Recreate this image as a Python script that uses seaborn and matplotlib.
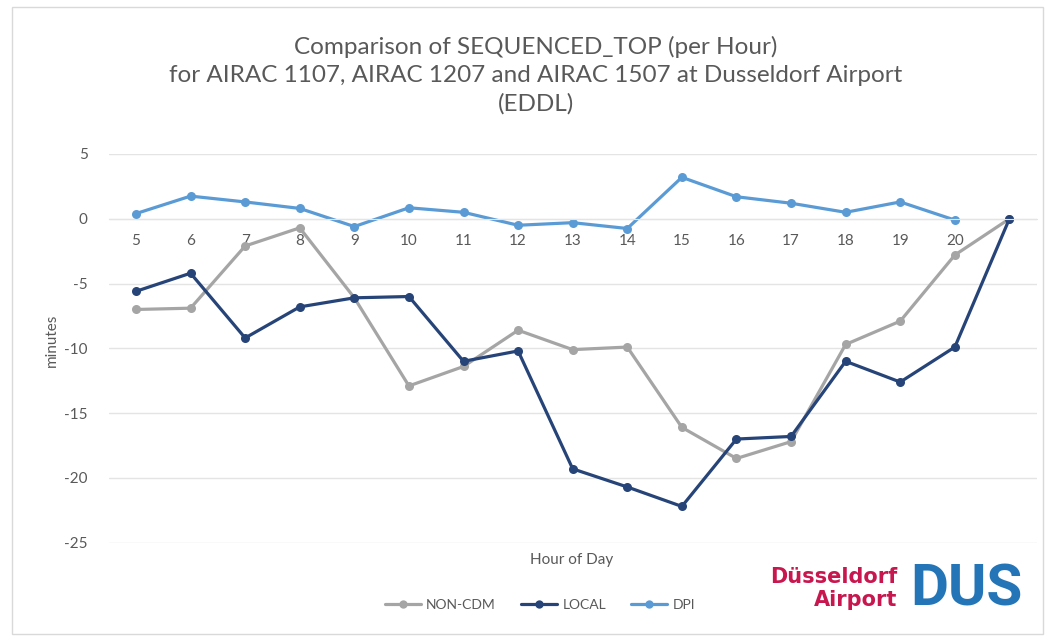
import matplotlib
matplotlib.use("Agg")
import matplotlib.pyplot as plt
import seaborn as sns
import numpy as np
import pandas as pd
from matplotlib.lines import Line2D
from matplotlib.patches import Rectangle

# Data
hours = [5, 6, 7, 8, 9, 10, 11, 12, 13, 14, 15, 16, 17, 18, 19, 20, 21]
hour_labels = ["5", "6", "7", "8", "9", "10", "11", "12", "13", "14",
               "15", "16", "17", "18", "19", "20", ""]
non_cdm = [-7.0, -6.9, -2.1, -0.7, -6.1, -12.9, -11.4, -8.6, -10.1, -9.9,
           -16.1, -18.5, -17.2, -9.7, -7.9, -2.8, 0.0]
local = [-5.6, -4.2, -9.2, -6.8, -6.1, -6.0, -11.0, -10.2, -19.3, -20.7,
         -22.2, -17.0, -16.8, -11.0, -12.6, -9.9, 0.0]
dpi = [0.4, 1.75, 1.3, 0.8, -0.6, 0.85, 0.5, -0.5, -0.3, -0.75,
       3.2, 1.7, 1.2, 0.5, 1.3, -0.1, np.nan]
y_ticks = [5, 0, -5, -10, -15, -20, -25]
y_labels = ["5", "0", "-5", "-10", "-15", "-20", "-25"]

series_names = ["NON-CDM", "LOCAL", "DPI"]
series_colors = ["#A5A5A5", "#264478", "#5B9BD5"]

sns.set_style("white")
plt.rcParams["font.family"] = ["Lato", "DejaVu Sans"]
text_col = "#595959"

df = pd.DataFrame({"hour": hours, "NON-CDM": non_cdm, "LOCAL": local, "DPI": dpi})
df = df.melt(id_vars="hour", var_name="series", value_name="minutes")

fig = plt.figure(figsize=(10.51, 6.39), dpi=100)
ax = fig.add_axes([0.1034, 0.1507, 0.883, 0.6083])

for name, col in zip(series_names, series_colors):
    sub = df[df["series"] == name].dropna()
    sns.lineplot(data=sub, x="hour", y="minutes", color=col, marker="o",
                 markersize=6.5, markeredgewidth=0, linewidth=2.3, ax=ax)

ax.set_xlim(4.5, 21.5)
ax.set_ylim(-25, 5)
ax.set_xticks(hours)
ax.set_xticklabels(hour_labels)
ax.set_yticks(y_ticks)
ax.set_yticklabels(y_labels)
ax.yaxis.grid(True, color="#E4E4E4", linewidth=1)
ax.set_axisbelow(True)
for s in ["top", "right", "left"]:
    ax.spines[s].set_visible(False)
ax.spines["bottom"].set_position(("data", 0))
ax.spines["bottom"].set_color("#E4E4E4")
ax.tick_params(axis="x", length=0, pad=11, labelsize=11, labelcolor=text_col)
ax.tick_params(axis="y", length=0, pad=15, labelsize=11, labelcolor=text_col)
ax.set_xlabel("")
ax.set_ylabel("")

fig.text(536 / 1051, 1 - 75 / 639,
         "Comparison of SEQUENCED_TOP (per Hour)\n"
         "for AIRAC 1107, AIRAC 1207 and AIRAC 1507 at Dusseldorf Airport\n"
         "(EDDL)",
         ha="center", va="center", fontsize=17.5, color=text_col, linespacing=1.42)
fig.text(52 / 1051, 1 - 340 / 639, "minutes", rotation=90, ha="center", va="center",
         fontsize=11, color=text_col)
fig.text(572 / 1051, 1 - 560 / 639, "Hour of Day", ha="center", va="center",
         fontsize=11, color=text_col)

handles = [Line2D([], [], color=c, marker="o", markersize=6, markeredgewidth=0, linewidth=2.3)
           for c in series_colors]
fig.legend(handles, series_names, loc="center", bbox_to_anchor=(540 / 1051, 1 - 605 / 639),
           ncol=3, frameon=False, fontsize=10, labelcolor=text_col,
           handlelength=2.6, columnspacing=1.8, handletextpad=0.4)

# airport logo
fig.text(897 / 1051, 1 - 577 / 639, "Düsseldorf", ha="right", va="center",
         fontsize=15, fontweight="bold", color="#C8174F", family="DejaVu Sans")
fig.text(897 / 1051, 1 - 600 / 639, "Airport", ha="right", va="center",
         fontsize=15, fontweight="bold", color="#C8174F", family="DejaVu Sans")
fig.text(966 / 1051, 1 - 590 / 639, "DUS", ha="center", va="center",
         fontsize=42, fontweight="bold", color="#2475B8", family="Roboto")

fig.patches.append(Rectangle((12 / 1051, 5 / 639), 1 - 20 / 1051, 1 - 12 / 639,
                             transform=fig.transFigure, fill=False,
                             edgecolor="#D9D9D9", linewidth=1))

fig.savefig("out.png", dpi=100)
